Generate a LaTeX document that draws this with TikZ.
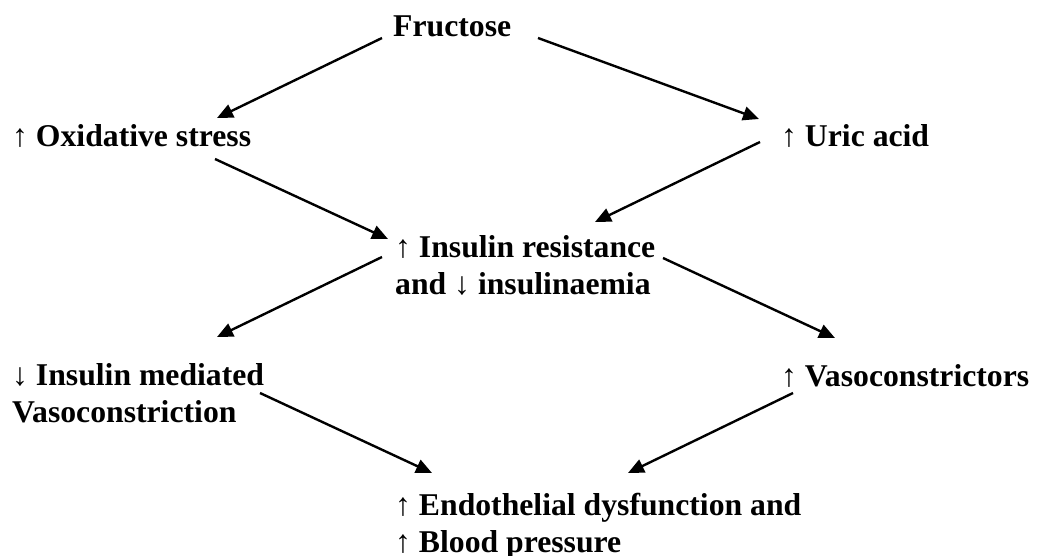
\documentclass[tikz,border=0pt]{standalone}
\usepackage{fontspec}
\setmainfont{Liberation Serif}
\usetikzlibrary{arrows.meta,calc}
\newcommand{\UpA}{{\mdseries ↑}}
\newcommand{\DnA}{{\mdseries ↓}}
\begin{document}
\begin{tikzpicture}[x=1pt,y=-1pt,
  lbl/.style={anchor=base west,inner sep=0pt,align=left,
    font=\fontsize{31.7}{37}\selectfont\bfseries},
  conn/.style={line width=2.4pt,-{Triangle[length=16pt,width=14pt]}}]
\useasboundingbox (0,0) rectangle (1038,556);
\node[lbl] (fru) at (393,37) {Fructose};
\node[lbl] (oxi) at (12,147) {\UpA{} Oxidative stress};
\node[lbl] (uric) at (781,147) {\UpA{} Uric acid};
\node[lbl] (ins) at (395,294) {\UpA{} Insulin resistance\\and \DnA{} insulinaemia};
\node[lbl] (med) at (12,422) {\DnA{} Insulin mediated\\Vasoconstriction};
\node[lbl] (vaso) at (781,386) {\UpA{} Vasoconstrictors};
\node[lbl] (endo) at (395,552) {\UpA{} Endothelial dysfunction and\\\UpA{} Blood pressure};
\draw[conn] ($(fru.base west)+(-11,1)$) -- ($(oxi.base west)+(205,-29)$);
\draw[conn] ($(fru.base west)+(145,1)$) -- ($(uric.base west)+(-22,-28)$);
\draw[conn] ($(oxi.base west)+(203,12)$) -- ($(ins.base west)+(-7,-55)$);
\draw[conn] ($(uric.base west)+(-21,-5)$) -- ($(ins.base west)+(200,-72)$);
\draw[conn] ($(ins.base west)+(-13,-37)$) -- ($(med.base west)+(205,-85)$);
\draw[conn] ($(ins.base west)+(268,-36)$) -- ($(vaso.base west)+(54,-48)$);
\draw[conn] ($(med.base west)+(248,-29)$) -- ($(endo.base west)+(37,-79)$);
\draw[conn] ($(vaso.base west)+(12,7)$) -- ($(endo.base west)+(233,-79)$);
\end{tikzpicture}
\end{document}
